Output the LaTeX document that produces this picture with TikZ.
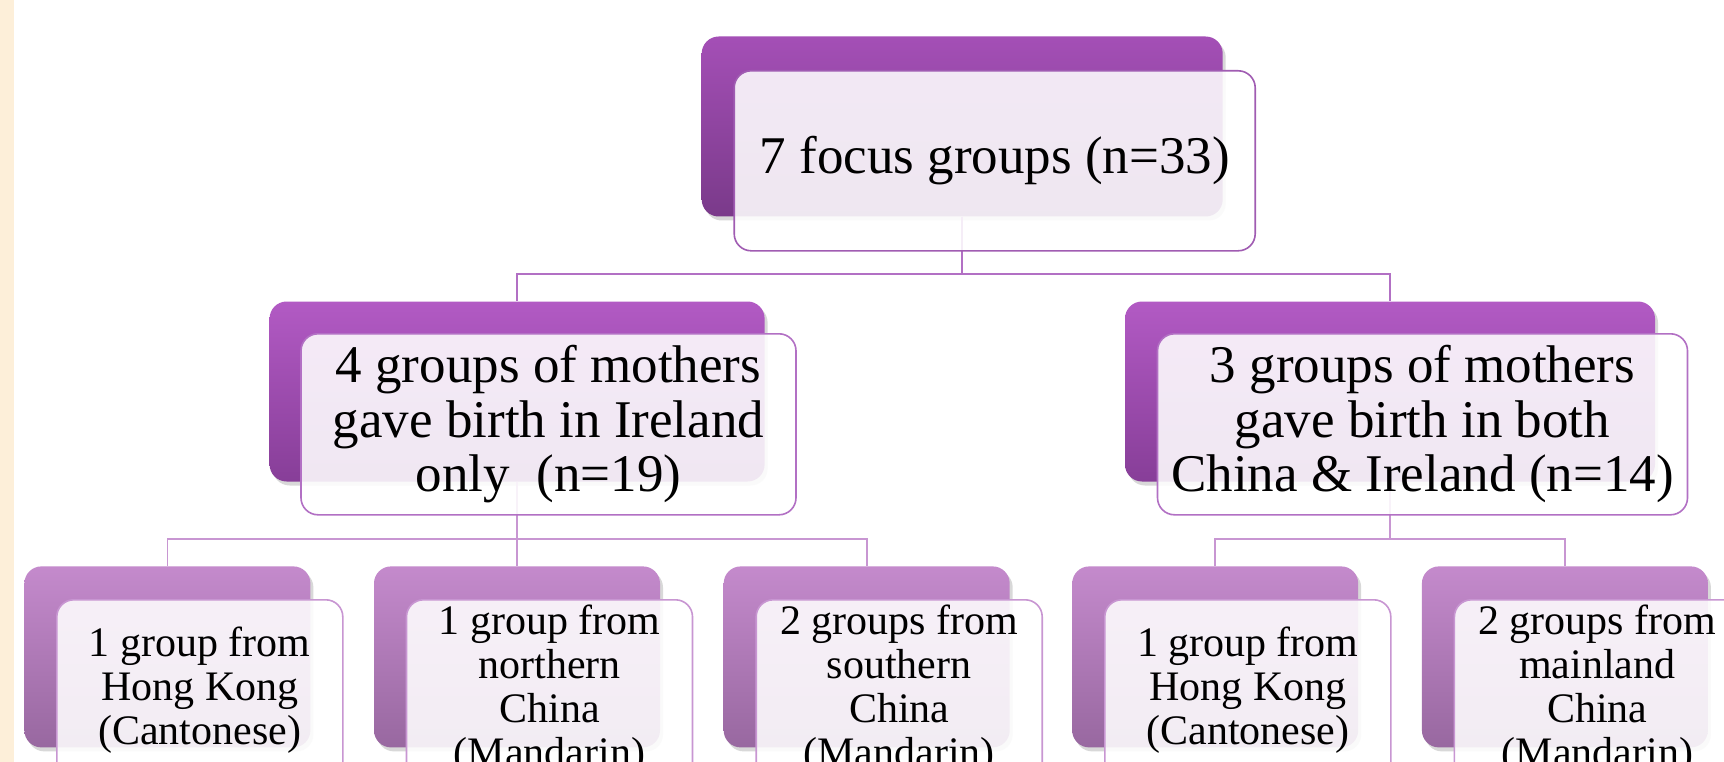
\documentclass[tikz,border=0pt]{standalone}
\usepackage{fontspec}
\setmainfont{Liberation Serif}
\usetikzlibrary{shadows}
\definecolor{beige}{RGB}{253,239,217}
\definecolor{topA}{RGB}{164,79,182}
\definecolor{topB}{RGB}{122,58,138}
\definecolor{midA}{RGB}{178,90,196}
\definecolor{midB}{RGB}{135,62,152}
\definecolor{lowA}{RGB}{196,138,204}
\definecolor{lowB}{RGB}{152,104,160}
\definecolor{topLine}{RGB}{160,92,178}
\definecolor{midLine}{RGB}{178,112,196}
\definecolor{lowLine}{RGB}{200,150,210}
\tikzset{
  backbox/.style={anchor=north west, rounded corners=17pt, inner sep=0pt,
    drop shadow={shadow xshift=3pt, shadow yshift=-4pt, opacity=0.3}},
  backtop/.style={backbox, minimum width=521pt, minimum height=180pt, top color=topA, bottom color=topB},
  backmid/.style={backbox, minimum height=180pt, top color=midA, bottom color=midB},
  backlow/.style={backbox, minimum width=286pt, minimum height=181pt, top color=lowA, bottom color=lowB},
  frontbox/.style={anchor=north west, rounded corners=17pt, inner sep=0pt, fill=white,
    fill opacity=0.88, text opacity=1, line width=1.6pt, align=center, text=black},
  fronttop/.style={frontbox, draw=topLine, minimum width=521pt, minimum height=180pt,
    font=\fontsize{53pt}{54.5pt}\selectfont},
  frontmid/.style={frontbox, draw=midLine, minimum height=181pt,
    font=\fontsize{53pt}{54.5pt}\selectfont},
  frontlow/.style={frontbox, draw=lowLine, minimum width=286pt, minimum height=181pt,
    font=\fontsize{42pt}{44pt}\selectfont},
  linkhi/.style={draw=midLine, line width=1.8pt},
  linklo/.style={draw=lowLine, line width=1.8pt}
}
\begin{document}
\begin{tikzpicture}[x=1pt,y=-1pt]
\useasboundingbox (0,0) rectangle (1724,762);
\clip (0,0) rectangle (1724,762);
\fill[white] (0,0) rectangle (1724,762);
\fill[beige] (0,0) rectangle (14,762);

% back boxes
\node[backtop] (t0b) at (701.5,36.3) {};
\node[backmid, minimum width=495pt] (m1b) at (269.4,301.3) {};
\node[backmid, minimum width=530pt] (m2b) at (1124.8,301.3) {};
\node[backlow] (b1b) at (24.2,566.2) {};
\node[backlow] (b2b) at (373.8,566.2) {};
\node[backlow] (b3b) at (723.5,566.2) {};
\node[backlow] (b4b) at (1072,566.2) {};
\node[backlow] (b5b) at (1421.7,566.2) {};

% connectors
\draw[linkhi] (t0b.south) -- ++(0,57) -| (m1b.north);
\draw[linkhi] (t0b.south) -- ++(0,57) -| (m2b.north);
\draw[linklo] (m1b.south) -- ++(0,57) -| (b1b.north);
\draw[linklo] (m1b.south) -- ++(0,57) -| (b2b.north);
\draw[linklo] (m1b.south) -- ++(0,57) -| (b3b.north);
\draw[linklo] (m2b.south) -- ++(0,57) -| (b4b.north);
\draw[linklo] (m2b.south) -- ++(0,57) -| (b5b.north);

% front boxes
\node[fronttop] (t0) at (733.4,70) {7 focus groups (n=33)};
\node[frontmid, minimum width=495pt] (m1) at (300.2,333) {4 groups of mothers\\gave birth in Ireland\\only\ \ (n=19)};
\node[frontmid, minimum width=530pt] (m2) at (1156.7,333) {3 groups of mothers\\gave birth in both\\China \& Ireland (n=14)};
\node[frontlow] (b1) at (56,599) {1 group from\\Hong Kong\\(Cantonese)};
\node[frontlow] (b2) at (405.7,599) {1 group from\\northern\\China\\(Mandarin)};
\node[frontlow] (b3) at (755.4,599) {2 groups from\\southern\\China\\(Mandarin)};
\node[frontlow] (b4) at (1104,599) {1 group from\\Hong Kong\\(Cantonese)};
\node[frontlow] (b5) at (1453.6,599) {2 groups from\\mainland\\China\\(Mandarin)};
\end{tikzpicture}
\end{document}
